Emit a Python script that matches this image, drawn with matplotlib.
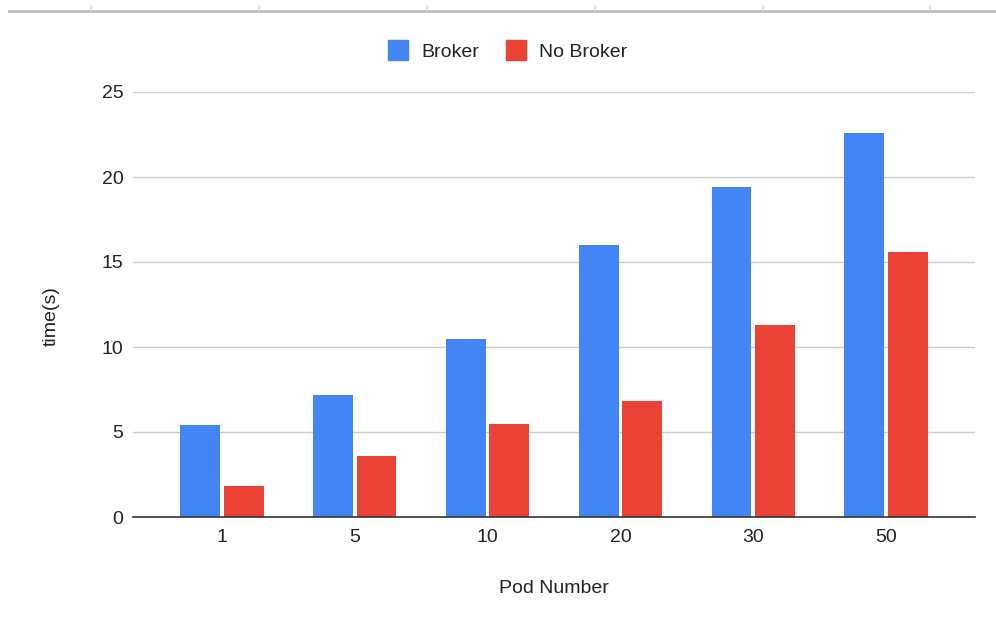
import matplotlib.pyplot as plt
import numpy as np
from matplotlib.lines import Line2D

plt.rcParams['font.family'] = ['Liberation Sans', 'DejaVu Sans']

pods = ['1', '5', '10', '20', '30', '50']
broker = [5.4, 7.2, 10.5, 16.0, 19.4, 22.6]
no_broker = [1.8, 3.6, 5.5, 6.8, 11.3, 15.6]

blue = '#4285F4'
red = '#EA4335'
txt = '#222222'

fig = plt.figure(figsize=(9.96, 6.24), dpi=100)
ax = fig.add_axes([133 / 996, 1 - 517 / 624, 842 / 996, 425 / 624])

x = np.arange(len(pods))
w = 0.30
off = 0.163
ax.bar(x - off, broker, w, color=blue, label='Broker', zorder=3)
ax.bar(x + off, no_broker, w, color=red, label='No Broker', zorder=3)

ax.set_xlim(-0.67, len(pods) - 1 + 0.67)
ax.set_ylim(0, 25)
ax.set_yticks([0, 5, 10, 15, 20, 25])
ax.set_xticks(x)
ax.set_xticklabels(pods)
ax.tick_params(length=0, labelsize=14, colors=txt)
ax.tick_params(axis='y', pad=7)
ax.tick_params(axis='x', pad=9)
ax.grid(axis='y', color='#cccccc', linewidth=1, zorder=0)
for s in ['top', 'right', 'left']:
    ax.spines[s].set_visible(False)
ax.spines['bottom'].set_color('#333333')
ax.spines['bottom'].set_linewidth(1.2)
ax.spines['bottom'].set_zorder(4)

ax.set_xlabel('Pod Number', fontsize=14, color=txt)
ax.xaxis.set_label_coords(0.5, -63 / 425)
ax.set_ylabel('time(s)', fontsize=14, color=txt)
ax.yaxis.set_label_coords(-73 / 842, 0.473)

handles = [
    Line2D([], [], marker='s', linestyle='', markersize=14, color=blue),
    Line2D([], [], marker='s', linestyle='', markersize=14, color=red),
]
fig.legend(handles, ['Broker', 'No Broker'], loc='center',
           bbox_to_anchor=(508 / 996, 1 - 52 / 624), ncol=2, frameon=False,
           fontsize=14, handletextpad=0.7, columnspacing=1.35,
           handlelength=1.0, labelcolor=txt)

# thin rule across the top with small tick marks
fig.add_artist(Line2D([9 / 996, 1], [1 - 11 / 624] * 2, color='#bdbdbd', linewidth=2))
for tx in [91, 259, 427, 595, 763, 930]:
    fig.add_artist(Line2D([tx / 996] * 2, [1 - 10 / 624, 1 - 6 / 624],
                          color='#dddddd', linewidth=1.2))

fig.savefig('out.png', dpi=100)
